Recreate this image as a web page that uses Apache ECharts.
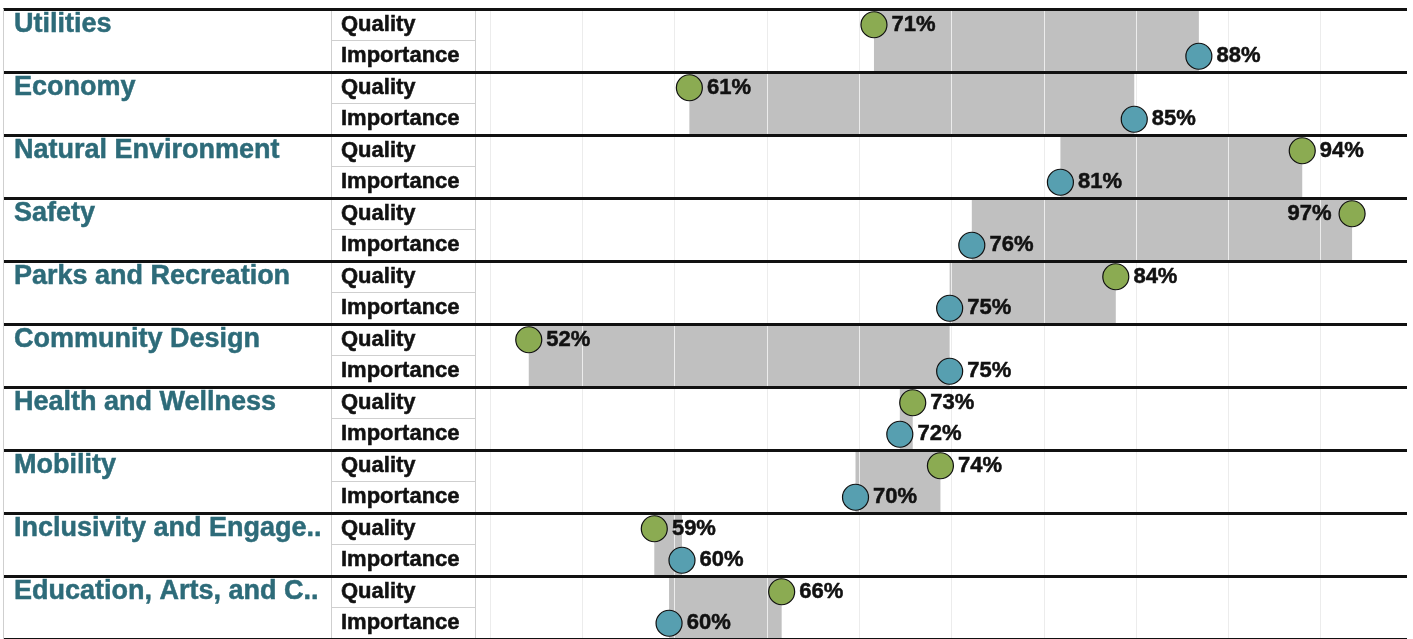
<!DOCTYPE html>
<html>
<head>
<meta charset="utf-8">
<title>Quality vs Importance</title>
<script src="https://cdn.jsdelivr.net/npm/echarts@6/dist/echarts.min.js"></script>
<style>
  html, body { margin: 0; padding: 0; background: #fff; }
  #main { width: 1413px; height: 639px; }
</style>
</head>
<body>
<div id="main"></div>
<script>
// data (circle positions, labels are the rounded values)
var categories = ['Utilities', 'Economy', 'Natural Environment', 'Safety', 'Parks and Recreation',
    'Community Design', 'Health and Wellness', 'Mobility', 'Inclusivity and Engage..', 'Education, Arts, and C..'];
var measures = ['Quality', 'Importance'];
var quality = [70.8, 60.8, 94.0, 96.7, 83.9, 52.1, 72.9, 74.4, 58.9, 65.8];
var importance = [88.4, 84.9, 80.9, 76.1, 74.9, 74.9, 72.2, 69.8, 60.4, 59.7];
var xMin = 50, xMax = 100, xStep = 5;

var font = "'Liberation Sans', Arial, sans-serif";
var gridTop = 9, gridHeight = 634;

// one row per category x measure
var rows = [];
categories.forEach(function (c) {
    measures.forEach(function (m) { rows.push(c + '|' + m); });
});

var qualityData = [], importanceData = [], bandData = [];
categories.forEach(function (c, i) {
    var q = { value: [quality[i], c + '|Quality'] };
    if (quality[i] > 96) q.label = { position: 'left', distance: 7 };
    qualityData.push(q);
    importanceData.push({ value: [importance[i], c + '|Importance'] });
    bandData.push([Math.min(quality[i], importance[i]), Math.max(quality[i], importance[i]), c + '|Quality']);
});

// a thin stroke in the text colour makes the bold a bit heavier, like the original
var dotLabel = {
    show: true,
    position: 'right',
    distance: 4,
    fontFamily: font,
    fontSize: 22,
    fontWeight: 'bold',
    color: '#111',
    textBorderColor: '#111',
    textBorderWidth: 0.5,
    formatter: function (p) { return Math.round(p.value[0]) + '%'; }
};

var myChart = echarts.init(document.getElementById('main'));
var option = {
    animation: false,
    grid: [
        { left: 3, width: 1404, top: gridTop, height: gridHeight },   // row lines + names
        { left: 331, width: 144, top: gridTop, height: gridHeight },  // Quality/Importance column
        { left: 490, width: 924, top: gridTop, height: gridHeight }   // plot
    ],
    xAxis: [
        { gridIndex: 0, type: 'value', min: 0, max: 1, show: false },
        {
            gridIndex: 1, type: 'value', min: 0, max: 1, interval: 1,
            axisLine: { show: false }, axisTick: { show: false }, axisLabel: { show: false },
            splitLine: { show: true, lineStyle: { color: '#cfcfcf', width: 1 } }
        },
        {
            gridIndex: 2, type: 'value', min: xMin, max: xMax, interval: xStep, z: 3,
            axisLine: { show: false }, axisTick: { show: false }, axisLabel: { show: false },
            splitLine: { show: true, lineStyle: { color: '#ececec', width: 1 } }
        }
    ],
    yAxis: [
        {
            gridIndex: 0, type: 'category', data: rows, inverse: true, z: 4,
            axisTick: { show: false },
            axisLine: { show: true, lineStyle: { color: '#cfcfcf', width: 1 } },
            axisLabel: {
                interval: 0, align: 'left', margin: -11,
                fontFamily: font, fontSize: 27, fontWeight: 'bold', color: '#2d6b79',
                textBorderColor: '#2d6b79', textBorderWidth: 0.5,
                formatter: function (v) { return v.split('|')[1] === 'Quality' ? v.split('|')[0] : ''; }
            },
            splitLine: {
                show: true,
                interval: function (i) { return i % 2 === 0; },
                lineStyle: { color: '#111', width: 3 }
            }
        },
        {
            gridIndex: 1, type: 'category', data: rows, inverse: true,
            axisTick: { show: false }, axisLine: { show: false },
            axisLabel: {
                interval: 0, align: 'left', margin: -10,
                fontFamily: font, fontSize: 22, fontWeight: 'bold', color: '#111',
                textBorderColor: '#111', textBorderWidth: 0.5,
                formatter: function (v) { return v.split('|')[1]; }
            },
            splitLine: {
                show: true,
                interval: function (i) { return i % 2 === 1; },
                lineStyle: { color: '#cfcfcf', width: 1 }
            }
        },
        { gridIndex: 2, type: 'category', data: rows, inverse: true, show: false }
    ],
    series: [
        {
            name: 'range',
            type: 'custom',
            xAxisIndex: 2, yAxisIndex: 2,
            z: 2,
            data: bandData,
            renderItem: function (params, api) {
                var a = api.coord([api.value(0), api.value(2)]);
                var b = api.coord([api.value(1), api.value(2)]);
                var h = api.size([0, 1])[1];
                return {
                    type: 'rect',
                    shape: { x: a[0], y: a[1] - h / 2, width: b[0] - a[0], height: h * 2 },
                    style: { fill: '#c0c0c0' }
                };
            }
        },
        {
            name: 'Quality',
            type: 'scatter',
            xAxisIndex: 2, yAxisIndex: 2,
            z: 5,
            symbolSize: 26,
            itemStyle: { color: '#8bab52', borderColor: '#111', borderWidth: 1.2, opacity: 1 },
            label: dotLabel,
            data: qualityData
        },
        {
            name: 'Importance',
            type: 'scatter',
            xAxisIndex: 2, yAxisIndex: 2,
            z: 5,
            symbolSize: 26,
            itemStyle: { color: '#579fb0', borderColor: '#111', borderWidth: 1.2, opacity: 1 },
            label: dotLabel,
            data: importanceData
        }
    ]
};
myChart.setOption(option);
</script>
</body>
</html>
